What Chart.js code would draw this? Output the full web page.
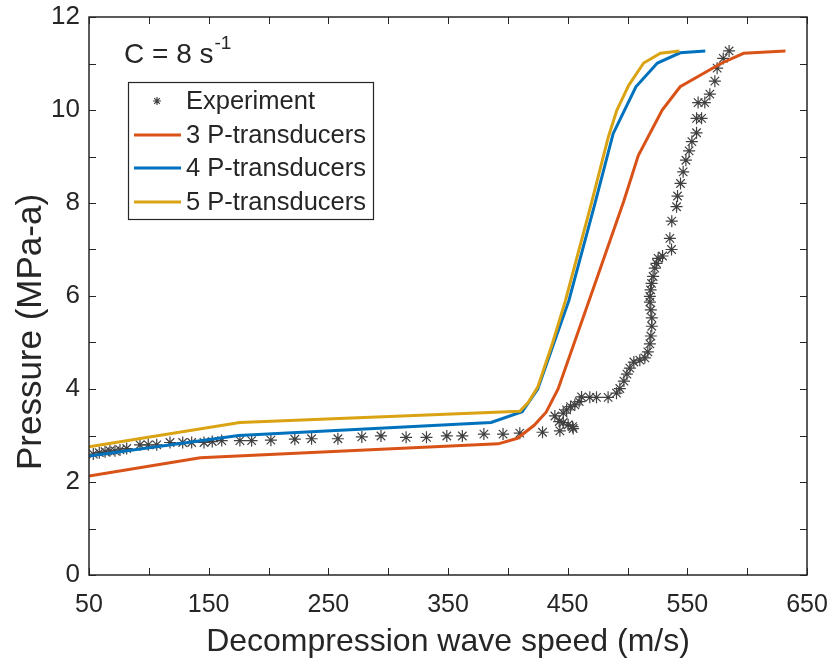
<!DOCTYPE html>
<html>
<head>
<meta charset="utf-8">
<script src="https://cdn.jsdelivr.net/npm/chart.js@4.4.1/dist/chart.umd.min.js"></script>
<style>
  html, body { margin: 0; padding: 0; background: #fff; }
  #wrap { width: 834px; height: 664px; position: relative; }
</style>
</head>
<body>
<div id="wrap"><canvas id="chart"></canvas></div>
<script>
// experiment (decompression wave speed m/s, pressure MPa-a)
const expSpeed = [53.6, 58.6, 63.4, 67.5, 71.7, 75.9, 81.5, 92.6, 99.5, 106.6, 117.7, 128.3, 135.8, 146.1, 153, 160.9,
  176.1, 185.9, 202, 222, 236, 258, 278, 294, 315, 332, 349, 362, 380, 396, 410, 429, 443.5,
  439.3, 442.9, 446.3, 446.3, 449.1, 450.4, 452.4, 454.1, 454.6, 456, 459.6, 461.6, 468.5, 474.1, 483.8,
  490.8, 493.6, 497, 499.5, 502, 505.3, 510.3, 514.5, 517, 518.7, 519.5, 520.3, 520.3, 519.5, 518.7,
  518.7, 519.3, 520.1, 521.4, 522.8, 524.3, 525.6, 529.3, 536.8, 535.4, 537, 541, 541.8, 544.3, 546.5,
  548.8, 551.5, 553.8, 557.7, 557.7, 561.9, 559, 564.6, 568.8, 573, 574.9, 580, 584.9];
const expPressure = [2.60, 2.63, 2.65, 2.67, 2.67, 2.69, 2.72, 2.80, 2.80, 2.80, 2.85, 2.85, 2.85, 2.85, 2.87, 2.89,
  2.89, 2.89, 2.90, 2.92, 2.93, 2.93, 2.97, 2.99, 2.96, 2.96, 2.99, 2.99, 3.03, 3.03, 3.05, 3.07, 3.10,
  3.42, 3.30, 3.48, 3.28, 3.55, 3.23, 3.62, 3.19, 3.15, 3.66, 3.73, 3.83, 3.82, 3.82, 3.82,
  3.91, 4.01, 4.17, 4.32, 4.45, 4.58, 4.62, 4.67, 4.80, 4.97, 5.14, 5.35, 5.53, 5.70, 5.87,
  5.99, 6.13, 6.27, 6.42, 6.60, 6.70, 6.81, 6.86, 7.00, 7.24, 7.61, 7.92, 8.15, 8.42, 8.67,
  8.92, 9.12, 9.32, 9.51, 9.82, 9.82, 10.16, 10.16, 10.34, 10.62, 10.90, 11.11, 11.27];

// model with 3 / 4 / 5 pressure transducers
const p3Speed = [50, 143, 392, 408, 422, 432, 442, 474, 497, 509, 529, 544, 578, 597, 632];
const p3Pressure = [2.13, 2.52, 2.82, 2.94, 3.22, 3.50, 4.00, 6.35, 8.05, 9.02, 10.00, 10.50, 11.00, 11.22, 11.27];
const p4Speed = [50, 175, 386, 412, 425, 451, 472, 488, 507, 525, 544, 565];
const p4Pressure = [2.56, 3.00, 3.28, 3.51, 4.00, 5.90, 7.91, 9.49, 10.50, 11.01, 11.23, 11.27];
const p5Speed = [50, 176, 410, 417, 425, 437.5, 448, 469, 484, 491, 501, 513.5, 527.5, 543.4];
const p5Pressure = [2.76, 3.28, 3.52, 3.71, 4.04, 5.00, 5.89, 7.91, 9.42, 9.99, 10.53, 11.01, 11.22, 11.27];

const seriesLabels = ['Experiment', '3 P-transducers', '4 P-transducers', '5 P-transducers'];
const xTickLabels = [50, 150, 250, 350, 450, 550, 650];
const yTickLabels = [0, 2, 4, 6, 8, 10, 12];

const textColor = '#262626';
const fontFamily = "'Liberation Sans', Arial, sans-serif";

const toPoints = (xs, ys) => xs.map((x, i) => ({ x: x, y: ys[i] }));

const lineSet = (label, xs, ys, color, order) => ({
  label: label,
  data: toPoints(xs, ys),
  borderColor: color,
  backgroundColor: color,
  borderWidth: 3,
  pointRadius: 0,
  tension: 0,
  showLine: true,
  order: order
});

// box round the plot and inward tick marks, like matlab
const framePlugin = {
  id: 'frame',
  afterDatasetsDraw(chart) {
    const { ctx, chartArea: a, scales } = chart;
    ctx.save();
    ctx.strokeStyle = textColor;
    ctx.lineWidth = 1;
    const tl = 7;
    scales.x.ticks.forEach(t => {
      const px = Math.round(scales.x.getPixelForValue(t.value)) + 0.5;
      ctx.beginPath();
      ctx.moveTo(px, a.bottom); ctx.lineTo(px, a.bottom - tl);
      ctx.moveTo(px, a.top); ctx.lineTo(px, a.top + tl);
      ctx.stroke();
    });
    scales.y.ticks.forEach(t => {
      const py = Math.round(scales.y.getPixelForValue(t.value)) + 0.5;
      ctx.beginPath();
      ctx.moveTo(a.left, py); ctx.lineTo(a.left + tl, py);
      ctx.moveTo(a.right, py); ctx.lineTo(a.right - tl, py);
      ctx.stroke();
    });
    ctx.lineWidth = 1.5;
    ctx.strokeRect(a.left, a.top, a.right - a.left, a.bottom - a.top);
    ctx.restore();
  }
};

// legend box, y label and the "C = 8 s-1" note
const legendPlugin = {
  id: 'boxLegend',
  afterDraw(chart) {
    const ctx = chart.ctx;
    ctx.save();
    ctx.fillStyle = textColor;

    // y axis title
    ctx.save();
    ctx.translate(31, 332);
    ctx.rotate(-Math.PI / 2);
    ctx.font = '35px ' + fontFamily;
    ctx.textAlign = 'center';
    ctx.textBaseline = 'middle';
    ctx.fillText('Pressure (MPa-a)', 0, 0);
    ctx.restore();

    ctx.font = '28px ' + fontFamily;
    ctx.textBaseline = 'alphabetic';
    ctx.textAlign = 'left';
    ctx.fillText('C = 8 s', 124, 63);
    const w = ctx.measureText('C = 8 s').width;
    ctx.font = '19px ' + fontFamily;
    ctx.fillText('-1', 124 + w + 1, 49);

    const bx = 128, by = 82, bw = 245, bh = 137;
    ctx.fillStyle = '#fff';
    ctx.fillRect(bx, by, bw, bh);
    ctx.strokeStyle = textColor;
    ctx.lineWidth = 1.2;
    ctx.strokeRect(bx + 0.5, by + 0.5, bw, bh);

    const rowY = [101, 135, 168, 202];
    ctx.font = '25.5px ' + fontFamily;
    ctx.textBaseline = 'middle';
    chart.data.datasets.forEach((ds, i) => {
      const y = rowY[i];
      if (i === 0) {
        ctx.strokeStyle = ds.borderColor;
        ctx.lineWidth = 1.2;
        Chart.helpers.drawPoint(ctx, { pointStyle: 'star', radius: 4, borderWidth: 1.2 }, 157, y);
      } else {
        ctx.strokeStyle = ds.borderColor;
        ctx.lineWidth = 3;
        ctx.beginPath();
        ctx.moveTo(134, y); ctx.lineTo(181, y);
        ctx.stroke();
      }
      ctx.fillStyle = textColor;
      ctx.fillText(ds.label, 186, y + 1);
    });
    ctx.restore();
  }
};

const ctx = document.getElementById('chart').getContext('2d');
new Chart(ctx, {
  type: 'scatter',
  data: {
    datasets: [
      {
        label: seriesLabels[0],
        data: toPoints(expSpeed, expPressure),
        pointStyle: 'star',
        pointRadius: 6,
        borderWidth: 1.2,
        borderColor: '#404040',
        backgroundColor: '#404040',
        showLine: false,
        order: 4
      },
      lineSet(seriesLabels[1], p3Speed, p3Pressure, '#D95319', 3),
      lineSet(seriesLabels[2], p4Speed, p4Pressure, '#0072BD', 2),
      lineSet(seriesLabels[3], p5Speed, p5Pressure, '#D9A314', 1)
    ]
  },
  options: {
    responsive: true,
    maintainAspectRatio: false,
    animation: false,
    layout: { padding: { top: 17, right: 27, left: 0, bottom: 0 } },
    plugins: {
      legend: { display: false },
      tooltip: { enabled: false }
    },
    scales: {
      x: {
        type: 'linear',
        min: 50,
        max: 650,
        grid: { display: false, drawTicks: false },
        border: { display: false },
        afterFit: s => { s.height = 89; s.paddingLeft = 0; s.paddingRight = 0; },
        ticks: {
          stepSize: 50,
          autoSkip: false,
          maxRotation: 0,
          padding: 15,
          color: textColor,
          font: { family: fontFamily, size: 25 },
          callback: v => xTickLabels.includes(v) ? v : ''
        },
        title: {
          display: true,
          text: 'Decompression wave speed (m/s)',
          color: textColor,
          font: { family: fontFamily, size: 32 },
          padding: { top: 0, bottom: 3 }
        }
      },
      y: {
        min: 0,
        max: 12,
        grid: { display: false, drawTicks: false },
        border: { display: false },
        afterFit: s => { s.width = 89; s.paddingTop = 0; s.paddingBottom = 0; },
        ticks: {
          stepSize: 1,
          autoSkip: false,
          padding: 9,
          color: textColor,
          font: { family: fontFamily, size: 26 },
          callback: v => yTickLabels.includes(v) ? v : ''
        },
        title: { display: false }
      }
    }
  },
  plugins: [framePlugin, legendPlugin]
});
</script>
</body>
</html>
